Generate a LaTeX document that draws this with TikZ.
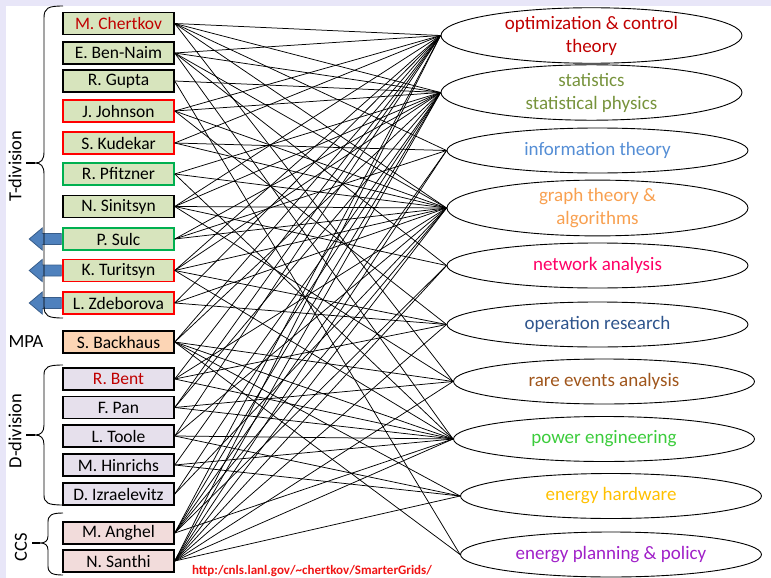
\documentclass[tikz,border=0pt]{standalone}
\usepackage{fontspec}
\setmainfont{Carlito}
\usetikzlibrary{calc, arrows, positioning, shapes.geometric}
\usetikzlibrary{arrows.meta}

\definecolor{tFill}{RGB}{215,228,189}
\definecolor{mFill}{RGB}{252,213,181}
\definecolor{dFill}{RGB}{230,224,236}
\definecolor{cFill}{RGB}{242,220,219}
\definecolor{redLine}{RGB}{255,0,0}
\definecolor{greenLine}{RGB}{0,176,80}
\definecolor{darkRed}{RGB}{192,0,0}
\definecolor{arrowBlue}{RGB}{79,129,189}
\definecolor{arrowEdge}{RGB}{56,93,138}
\definecolor{bandColor}{RGB}{232,230,248}
\definecolor{urlRed}{RGB}{240,20,20}
\definecolor{cOpt}{RGB}{192,0,0}
\definecolor{cStat}{RGB}{119,147,60}
\definecolor{cInfo}{RGB}{85,142,213}
\definecolor{cGraph}{RGB}{248,160,80}
\definecolor{cNet}{RGB}{255,0,102}
\definecolor{cOper}{RGB}{46,84,140}
\definecolor{cRare}{RGB}{160,86,28}
\definecolor{cPower}{RGB}{60,204,60}
\definecolor{cHard}{RGB}{255,192,0}
\definecolor{cPlan}{RGB}{160,32,200}

\begin{document}
\begin{tikzpicture}[x=1pt,y=-1pt,
    pBox/.style={draw,line width=1.5pt,minimum width=111pt,minimum height=22pt,inner sep=0pt,
        font=\fontsize{17.5}{19}\selectfont},
    tBox/.style={pBox,fill=tFill},
    tRedTxt/.style={tBox,text=darkRed},
    tRedBox/.style={tBox,draw=redLine},
    tGreenBox/.style={tBox,draw=greenLine},
    mBox/.style={pBox,fill=mFill},
    dBox/.style={pBox,fill=dFill},
    dRedTxt/.style={dBox,text=darkRed},
    cBox/.style={pBox,fill=cFill},
    topic/.style={draw,ellipse,line width=0.9pt,minimum width=301pt,minimum height=45pt,inner sep=0pt,
        align=center,font=\fontsize{19}{23}\selectfont},
    link/.style={line width=0.75pt},
    divLabel/.style={font=\fontsize{18.5}{20}\selectfont}
]
\useasboundingbox (0,0) rectangle (771,578);
\fill[bandColor] (0,0) rectangle (771,6);
\fill[bandColor] (0,0) rectangle (6,578);

%人員方塊
\foreach \i/\y/\who/\sty in {1/23.5/M. Chertkov/tRedTxt, 2/53/E. Ben-Naim/tBox, 3/81/R. Gupta/tBox,
    4/111/J. Johnson/tRedBox, 5/143/S. Kudekar/tRedBox, 6/174/R. Pfitzner/tGreenBox,
    7/206.5/N. Sinitsyn/tBox, 8/239/P. Sulc/tGreenBox, 9/270.5/K. Turitsyn/tRedBox,
    10/303/L. Zdeborova/tRedBox, 11/342/S. Backhaus/mBox, 12/379/R. Bent/dRedTxt,
    13/407.5/F. Pan/dBox, 14/436/L. Toole/dBox, 15/465/M. Hinrichs/dBox,
    16/494/D. Izraelevitz/dBox, 17/533/M. Anghel/cBox, 18/561/N. Santhi/cBox}
{
    \node[\sty] (p\i) at (118.5,\y) {\who};
}

%主題橢圓
\foreach \j/\x/\y/\col/\txt in {1/591.5/35.5/cOpt/{optimization \& control\\theory},
    2/591.5/92.5/cStat/{statistics\\statistical physics}, 3/597.5/150.5/cInfo/{information theory},
    4/597.5/208/cGraph/{graph theory \&\\algorithms}, 5/597.5/265.5/cNet/{network analysis},
    6/597.5/324.5/cOper/{operation research}, 7/604/381.5/cRare/{rare events analysis},
    8/604/439/cPower/{power engineering}, 9/611/496/cHard/{energy hardware},
    10/611/554.5/cPlan/{energy planning \& policy}}
{
    \node[topic,text=\col] (t\j) at (\x,\y) {\txt};
}

%連線
\foreach \a/\b in {1/1,1/2,1/3,1/4,1/7, 2/1,2/2,2/4,2/5,2/8, 3/2,3/10,
    4/1,4/2,4/4,4/6, 5/1,5/3,5/4, 6/2,6/4,6/8, 7/1,7/2,7/4,7/5,7/7,
    8/2,8/3,8/4, 9/1,9/2,9/4,9/6,9/8, 10/1,10/4,10/6,
    11/1,11/2,11/7,11/8,11/9,11/10, 12/1,12/4,12/6,12/8, 13/1,13/2,13/7,13/8,
    14/1,14/4,14/8,14/9, 15/2,15/8,15/9, 16/2,16/4,
    17/1,17/2,17/3,17/4,17/5,17/8, 18/1,18/2,18/3,18/4,18/5,18/6,18/7,18/8,18/9}
{
    \draw[link] (p\a.east) -- (t\b.west);
}

%藍色箭頭
\foreach \i in {8,9,10}
{
    \filldraw[fill=arrowBlue,draw=arrowEdge,line width=0.8pt] (p\i.west) ++(-1,-5.5) -- ++(-19,0)
        -- ++(0,-5.5) -- ++(-13,11) -- ++(13,11) -- ++(0,-5.5) -- ++(19,0) -- cycle;
}

%大括號
\draw[line width=0.9pt] (63,6) .. controls (48,6) and (44,8) .. (44,18) -- (44,152)
    .. controls (44,160) and (41,163) .. (35,163) .. controls (41,163) and (44,166) .. (44,174)
    -- (44,306) .. controls (44,316) and (48,318) .. (63,318);
\draw[line width=0.9pt] (63,365) .. controls (48,365) and (44,367) .. (44,375) -- (44,425)
    .. controls (44,432) and (41,435) .. (35,435) .. controls (41,435) and (44,438) .. (44,445)
    -- (44,495) .. controls (44,503) and (48,505) .. (63,505);
\draw[line width=0.9pt] (63,513) .. controls (52,513) and (48,515) .. (48,522) -- (48,536)
    .. controls (48,541) and (45,543) .. (40,543) .. controls (45,543) and (48,545) .. (48,550)
    -- (48,566) .. controls (48,573) and (52,575) .. (63,575);
\draw[line width=1.6pt] (26,163) -- (35,163);
\draw[line width=1.6pt] (26,435) -- (35,435);
\draw[line width=1.6pt] (32,543) -- (40,543);

%分組標籤
\node[divLabel,rotate=90] (lT) at (15,166) {T-division};
\node[divLabel] (lM) at (26,342) {MPA};
\node[divLabel,rotate=90] (lD) at (15,431) {D-division};
\node[divLabel,rotate=90] (lC) at (21,547) {CCS};

\node[text=urlRed,font=\fontsize{13}{15}\selectfont\bfseries] (url) at (312,571)
    {http:/cnls.lanl.gov/\textasciitilde chertkov/SmarterGrids/};

\end{tikzpicture}
\end{document}
